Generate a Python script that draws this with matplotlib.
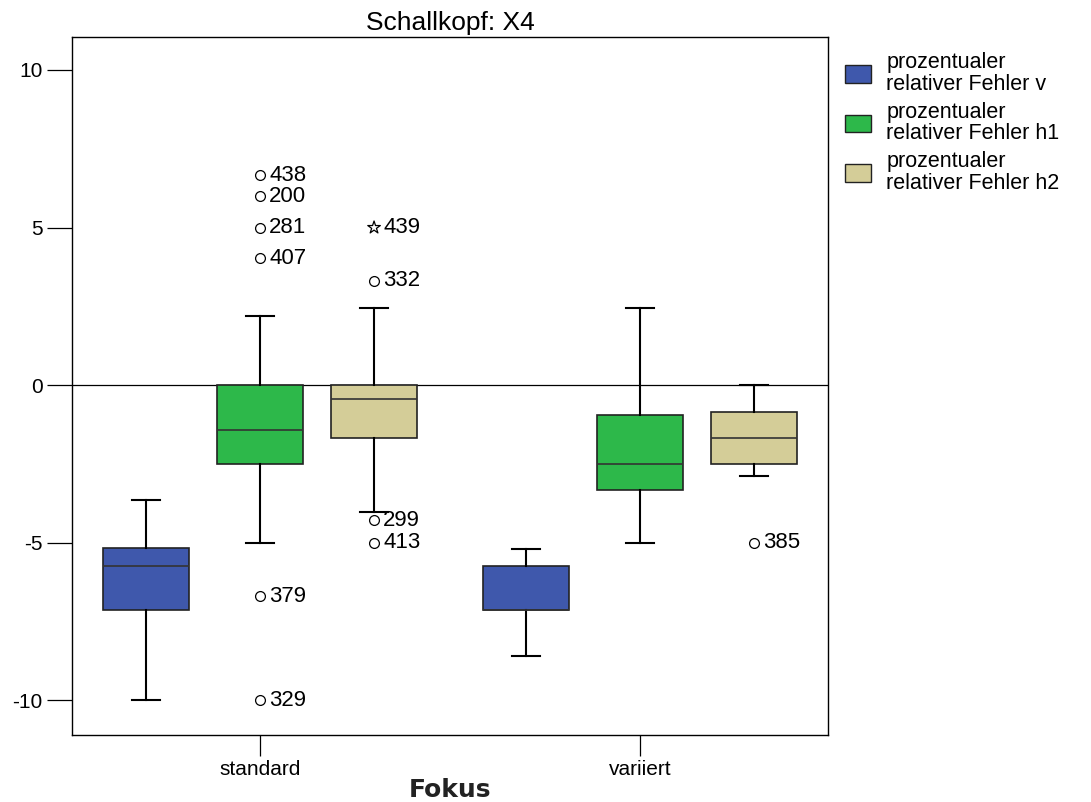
import matplotlib
matplotlib.use('Agg')
import matplotlib.pyplot as plt
from matplotlib.patches import Patch

plt.rcParams['font.family'] = ['Liberation Sans', 'DejaVu Sans']

# groups and series
groups = ['standard', 'variiert']
series = ['prozentualer\nrelativer Fehler v',
          'prozentualer\nrelativer Fehler h1',
          'prozentualer\nrelativer Fehler h2']
colors = ['#3F58AC', '#2DB84A', '#D4CD98']

# box stats per group per series: (whislo, q1, med, q3, whishi)
stats_standard = [(-10.0, -7.14, -5.74, -5.17, -3.64),
                  (-5.0, -2.50, -1.41, 0.0, 2.21),
                  (-4.02, -1.67, -0.43, 0.0, 2.46)]
stats_variiert = [(-8.60, -7.14, -7.14, -5.74, -5.20),
                  (-5.0, -3.32, -2.50, -0.94, 2.46),
                  (-2.87, -2.50, -1.67, -0.84, 0.0)]

# outliers: (group index, series index, value, case label, extreme?)
outliers = [(0, 1, 6.66, '438', False),
            (0, 1, 6.00, '200', False),
            (0, 1, 5.00, '281', False),
            (0, 1, 4.02, '407', False),
            (0, 1, -6.69, '379', False),
            (0, 1, -10.0, '329', False),
            (0, 2, 5.00, '439', True),
            (0, 2, 3.32, '332', False),
            (0, 2, -4.28, '299', False),
            (0, 2, -5.00, '413', False),
            (1, 2, -5.00, '385', False)]

offsets = [-0.3, 0.0, 0.3]
box_w = 0.226

fig = plt.figure(figsize=(10.91, 8.02), dpi=100)
ax = fig.add_axes([0.066, 0.0835, 0.693, 0.8705])

ax.axhline(0, color='black', lw=0.9, zorder=1)

for gi, st in enumerate([stats_standard, stats_variiert]):
    for si, (lo, q1, med, q3, hi) in enumerate(st):
        d = dict(whislo=lo, q1=q1, med=med, q3=q3, whishi=hi, fliers=[])
        bp = ax.bxp([d], positions=[gi + 1 + offsets[si]], widths=box_w,
                    patch_artist=True, showfliers=False, capwidths=0.074,
                    boxprops=dict(facecolor=colors[si], edgecolor='#222222', lw=1.2),
                    medianprops=dict(color='#333333', lw=1.2),
                    whiskerprops=dict(color='black', lw=1.5),
                    capprops=dict(color='black', lw=1.5))
        for b in bp['boxes']:
            b.set_zorder(2)

for gi, si, val, lab, extreme in outliers:
    x = gi + 1 + offsets[si]
    if extreme:
        ax.scatter([x], [val], marker='*', s=90, facecolors='none',
                   edgecolors='black', linewidths=0.9, zorder=3)
    else:
        ax.scatter([x], [val], marker='o', s=50, facecolors='white',
                   edgecolors='black', linewidths=0.9, zorder=3)
    ax.text(x + 0.024, val, lab, fontsize=16, va='center', ha='left')

ax.set_xlim(0.505, 2.495)
ax.set_ylim(-11.1, 11.05)
ax.set_xticks([1, 2])
ax.set_xticklabels(groups, fontsize=15)
ax.set_yticks([-10, -5, 0, 5, 10])
ax.set_yticklabels(['-10', '-5', '0', '5', '10'], fontsize=15)
ax.tick_params(axis='y', length=18, width=0.9, pad=3)
ax.tick_params(axis='x', length=15, width=0.9, pad=3)
for sp in ax.spines.values():
    sp.set_linewidth(1.0)

ax.set_title('Schallkopf: X4', fontsize=19, pad=5)
ax.set_xlabel('Fokus', fontsize=18, fontweight='bold', color='#222222',
              family='DejaVu Sans', labelpad=-1)

handles = [Patch(facecolor=c, edgecolor='#222222') for c in colors]
leg = fig.legend(handles, series, loc='upper left', bbox_to_anchor=(0.757, 0.959),
                 frameon=False, fontsize=15.5, handlelength=1.2, handleheight=0.9,
                 labelspacing=0.3, handletextpad=0.7)
for t in leg.get_texts():
    t.set_linespacing(1.05)

fig.savefig('out.png', dpi=100)
